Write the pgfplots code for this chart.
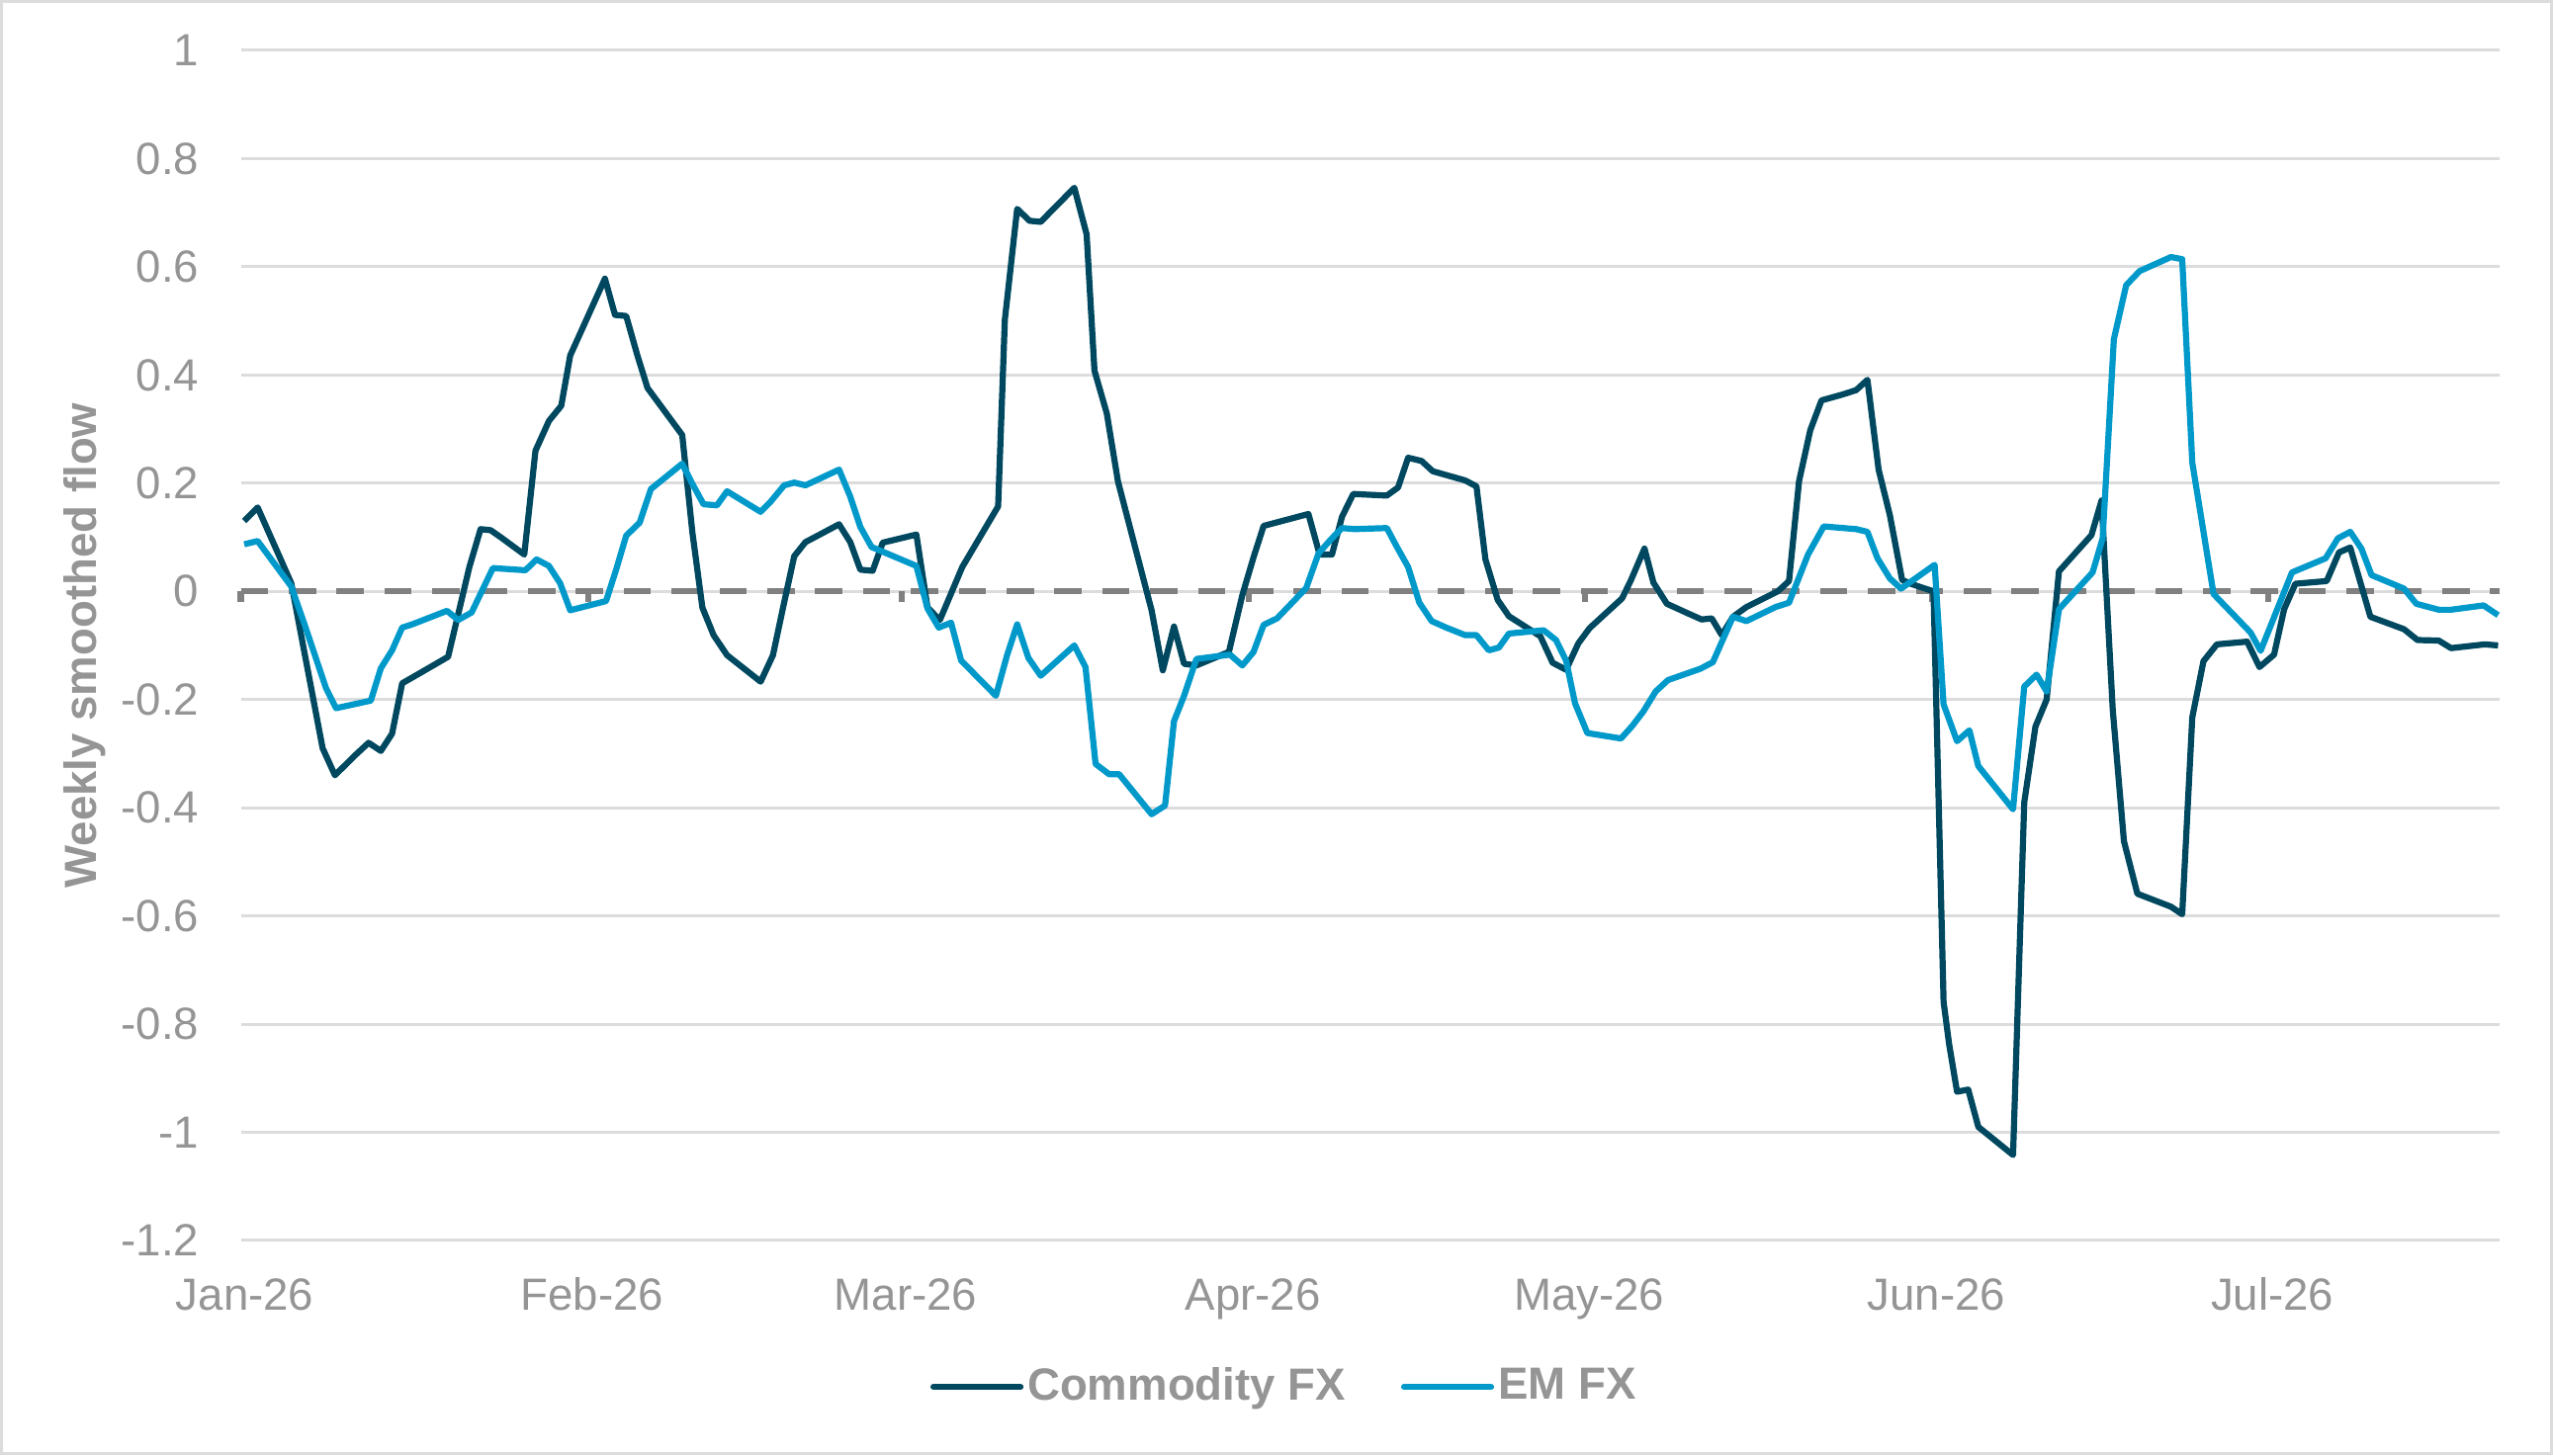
\documentclass[border=0pt]{standalone}
\usepackage{fontspec}
\setmainfont{Liberation Sans}
\usepackage{pgfplots}
\pgfplotsset{compat=1.18}

\definecolor{commodity}{HTML}{00485F}
\definecolor{emfx}{HTML}{0099CA}
\definecolor{txtgray}{HTML}{959595}
\definecolor{gridgray}{HTML}{DCDCDC}
\definecolor{zerogray}{HTML}{808080}
\newcommand{\chartfont}{\fontsize{11.4pt}{13.7pt}\selectfont}

% x = days since 1 Jan 2026
\pgfplotstableread{
d v
0.3 0.13
1.5 0.155
4.5 0.015
7.3 -0.29
8.4 -0.34
10.1 -0.305
11.4 -0.28
12.5 -0.295
13.5 -0.263
14.4 -0.17
16.0 -0.151
18.5 -0.121
20.4 0.045
21.4 0.115
22.3 0.113
23.2 0.10
25.3 0.068
26.3 0.26
27.5 0.315
28.6 0.343
29.4 0.436
32.5 0.578
33.4 0.511
34.4 0.509
35.4 0.436
36.3 0.376
39.4 0.289
40.3 0.11
41.2 -0.03
42.2 -0.081
43.4 -0.118
46.4 -0.167
47.5 -0.118
48.4 -0.03
49.4 0.065
50.4 0.091
51.5 0.103
53.4 0.124
54.4 0.091
55.3 0.04
56.4 0.038
57.3 0.09
60.3 0.105
61.3 -0.03
62.4 -0.053
64.4 0.045
67.6 0.157
68.2 0.502
69.3 0.707
70.4 0.685
71.4 0.683
74.4 0.746
75.5 0.66
76.2 0.408
77.3 0.329
78.3 0.203
81.3 -0.035
82.3 -0.146
83.3 -0.065
84.2 -0.134
85.3 -0.137
88.2 -0.112
89.4 -0.007
90.4 0.063
91.3 0.121
95.3 0.143
96.3 0.068
97.4 0.068
98.3 0.138
99.3 0.18
102.3 0.177
103.3 0.192
104.2 0.247
105.4 0.241
106.4 0.222
109.3 0.205
110.3 0.194
111.1 0.059
112.2 -0.016
113.2 -0.046
116.0 -0.083
117.1 -0.132
118.3 -0.145
119.4 -0.096
120.4 -0.068
123.3 -0.013
124.1 0.021
125.3 0.079
126.1 0.016
127.3 -0.023
129.1 -0.04
130.4 -0.052
131.3 -0.05
132.2 -0.081
133.2 -0.047
134.4 -0.029
137.2 0.0
138.2 0.019
139.1 0.204
140.1 0.298
141.1 0.353
143.0 0.364
144.2 0.372
145.2 0.391
146.2 0.225
147.2 0.141
148.3 0.021
149.2 0.013
151.1 0.0
152.0 -0.759
152.5 -0.838
153.2 -0.925
154.2 -0.921
155.1 -0.99
158.2 -1.042
159.2 -0.39
160.2 -0.25
161.2 -0.2
162.3 0.037
165.2 0.104
166.1 0.168
167.1 -0.219
168.1 -0.462
169.3 -0.559
172.3 -0.583
173.3 -0.597
174.2 -0.233
175.2 -0.129
176.4 -0.098
179.1 -0.093
180.2 -0.14
181.5 -0.117
182.4 -0.033
183.4 0.014
186.2 0.019
187.3 0.072
188.3 0.081
190.1 -0.047
193.1 -0.07
194.3 -0.09
196.2 -0.091
197.3 -0.105
200.3 -0.098
201.5 -0.1
}\commodityfx

\pgfplotstableread{
d v
0.3 0.087
1.5 0.093
4.5 0.009
5.7 -0.062
7.6 -0.179
8.5 -0.216
11.6 -0.202
12.5 -0.142
13.5 -0.109
14.4 -0.067
15.3 -0.061
18.4 -0.036
19.4 -0.053
20.6 -0.039
22.5 0.043
25.4 0.039
26.4 0.059
27.5 0.047
28.5 0.015
29.4 -0.035
32.6 -0.018
33.5 0.04
34.4 0.103
35.6 0.127
36.6 0.189
39.4 0.236
40.3 0.199
41.3 0.161
42.5 0.159
43.4 0.185
46.4 0.147
47.3 0.166
48.5 0.196
49.4 0.201
50.4 0.196
53.4 0.225
54.4 0.175
55.3 0.119
56.3 0.082
60.3 0.047
61.3 -0.032
62.3 -0.067
63.4 -0.058
64.3 -0.128
67.4 -0.193
68.4 -0.118
69.3 -0.061
70.3 -0.123
71.4 -0.156
74.4 -0.100
75.4 -0.140
76.3 -0.319
77.5 -0.338
78.4 -0.338
81.3 -0.412
82.5 -0.396
83.3 -0.24
84.2 -0.193
85.3 -0.125
88.3 -0.117
89.4 -0.137
90.4 -0.112
91.3 -0.062
92.5 -0.05
95.1 0.006
96.2 0.07
97.3 0.096
98.3 0.117
99.4 0.115
102.3 0.117
103.2 0.082
104.2 0.045
105.2 -0.021
106.3 -0.055
107.6 -0.067
109.3 -0.081
110.3 -0.081
111.4 -0.109
112.3 -0.104
113.2 -0.078
116.3 -0.072
117.4 -0.09
118.3 -0.128
119.1 -0.207
120.2 -0.262
123.2 -0.272
124.2 -0.249
125.2 -0.222
126.3 -0.185
127.4 -0.164
130.3 -0.143
131.4 -0.131
133.2 -0.047
134.4 -0.055
137.0 -0.029
138.2 -0.021
139.9 0.068
141.3 0.120
144.2 0.115
145.2 0.110
146.1 0.061
147.2 0.024
148.2 0.005
151.2 0.049
152.0 -0.209
153.2 -0.277
154.3 -0.257
155.1 -0.323
158.2 -0.403
159.2 -0.176
160.3 -0.154
161.2 -0.185
162.3 -0.033
165.3 0.035
166.2 0.098
167.2 0.466
168.3 0.566
169.5 0.592
172.3 0.618
173.3 0.614
174.2 0.238
176.1 -0.005
179.4 -0.076
180.3 -0.11
183.1 0.035
186.1 0.061
187.2 0.098
188.3 0.110
189.3 0.079
190.2 0.030
193.1 0.005
194.2 -0.023
196.2 -0.034
197.3 -0.034
200.2 -0.026
201.5 -0.044
}\emfx

\begin{document}
\begin{tikzpicture}
\useasboundingbox (-60.9pt,-54.3pt) rectangle (584.6pt,313.75pt);
\draw[gridgray, line width=0.8pt] (-60.5pt,-53.9pt) rectangle (584.2pt,313.35pt);
\begin{axis}[
  at={(0pt,0pt)}, anchor=south west,
  scale only axis, width=571pt, height=301pt,
  xmin=0, xmax=201.6, ymin=-1.2, ymax=1,
  clip=false,
  axis line style={draw=none},
  major tick length=0pt,
  xtick={0,31,59,90,120,151,181},
  xticklabels={Jan-26,Feb-26,Mar-26,Apr-26,May-26,Jun-26,Jul-26},
  ytick={-1.2,-1,-0.8,-0.6,-0.4,-0.2,0,0.2,0.4,0.6,0.8,1},
  ymajorgrids,
  major grid style={gridgray, line width=0.75pt},
  /pgf/number format/assume math mode=true,
  tick label style={font=\chartfont, text=txtgray, inner sep=0pt},
  xticklabel style={anchor=base, yshift=-17.6pt, xshift=1pt},
  yticklabel style={anchor=east, xshift=-10.4pt},
  ylabel={Weekly smoothed flow},
  ylabel style={font=\chartfont\bfseries, text=txtgray, inner sep=0pt,
    at={([xshift=-39.5pt]axis description cs:0,0.5)}, anchor=center},
  legend style={at={(axis description cs:0.4624,-0.123)}, anchor=center,
    draw=none, fill=none, font=\chartfont\bfseries, text=txtgray,
    legend columns=2, nodes={inner sep=1pt},
    /tikz/every even column/.append style={column sep=13pt}},
  legend image code/.code={\draw[#1, line cap=round] (0pt,0pt) -- (22pt,0pt);},
]
% zero line with month ticks
\addplot[zerogray, line width=1.6pt, dash pattern=on 6.9pt off 5.2pt, forget plot]
  coordinates {(0,0) (201.6,0)};
\addplot[zerogray, line width=1.6pt, ycomb, forget plot]
  coordinates {(0,-0.02) (31,-0.02) (59,-0.02) (90,-0.02) (120,-0.02) (151,-0.02) (181,-0.02)};

\addplot[commodity, line width=1.55pt, line join=round] table[x=d, y=v] {\commodityfx};
\addlegendentry{Commodity FX}
\addplot[emfx, line width=1.55pt, line join=round] table[x=d, y=v] {\emfx};
\addlegendentry{EM FX}
\end{axis}
\end{tikzpicture}
\end{document}
